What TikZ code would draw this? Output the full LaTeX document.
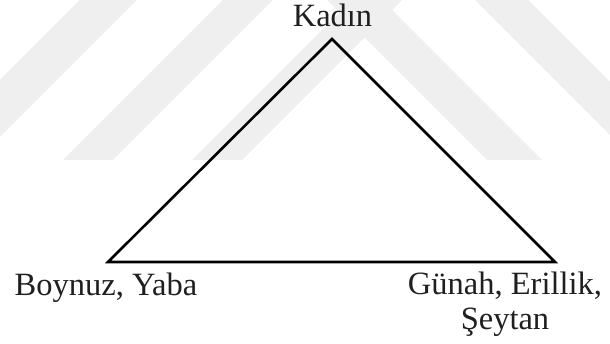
\documentclass[tikz,border=0pt]{standalone}
\usepackage{fontspec}
\setmainfont{Liberation Serif}
\usetikzlibrary{positioning}
\definecolor{wmgray}{HTML}{EFEFEF}

\begin{document}
\begin{tikzpicture}[
    x=1pt, y=-1pt,
    band/.style={fill=wmgray, draw=none},
    edge/.style={line width=2.6pt, black, line join=miter},
    label/.style={font=\fontsize{32.5}{35}\selectfont, text=black!88,
                  inner sep=0pt, align=center}
]
\useasboundingbox (0,0) rectangle (610,344);

% Watermark bands
\fill[band] (80,0) -- (137,0) -- (0,137) -- (0,80) -- cycle;
\fill[band] (223,0) -- (273,0) -- (113,160) -- (63,160) -- cycle;
\fill[band] (192,160) -- (339.5,12.5) -- (327,0) -- (402,0) -- (392,10)
    -- (542,160) -- (487,160) -- (364.5,37.5) -- (242,160) -- cycle;
\fill[band] (475,0) -- (528,0) -- (610,82) -- (610,135) -- cycle;

% Corners
\coordinate (top) at (332,39);
\coordinate (left) at (108,262);
\coordinate (right) at (555,262);

% Triangle
\draw[edge] (left) -- (top) -- (right) -- cycle;

% Labels
\node[label, anchor=base] (kadin) at (332.5,27) {Kadın};
\node[label, anchor=base] (boynuz) at (106,296) {Boynuz, Yaba};
\node[label, anchor=base] (gunah) at (505,330) {Günah, Erillik,\\Şeytan};

\end{tikzpicture}
\end{document}
